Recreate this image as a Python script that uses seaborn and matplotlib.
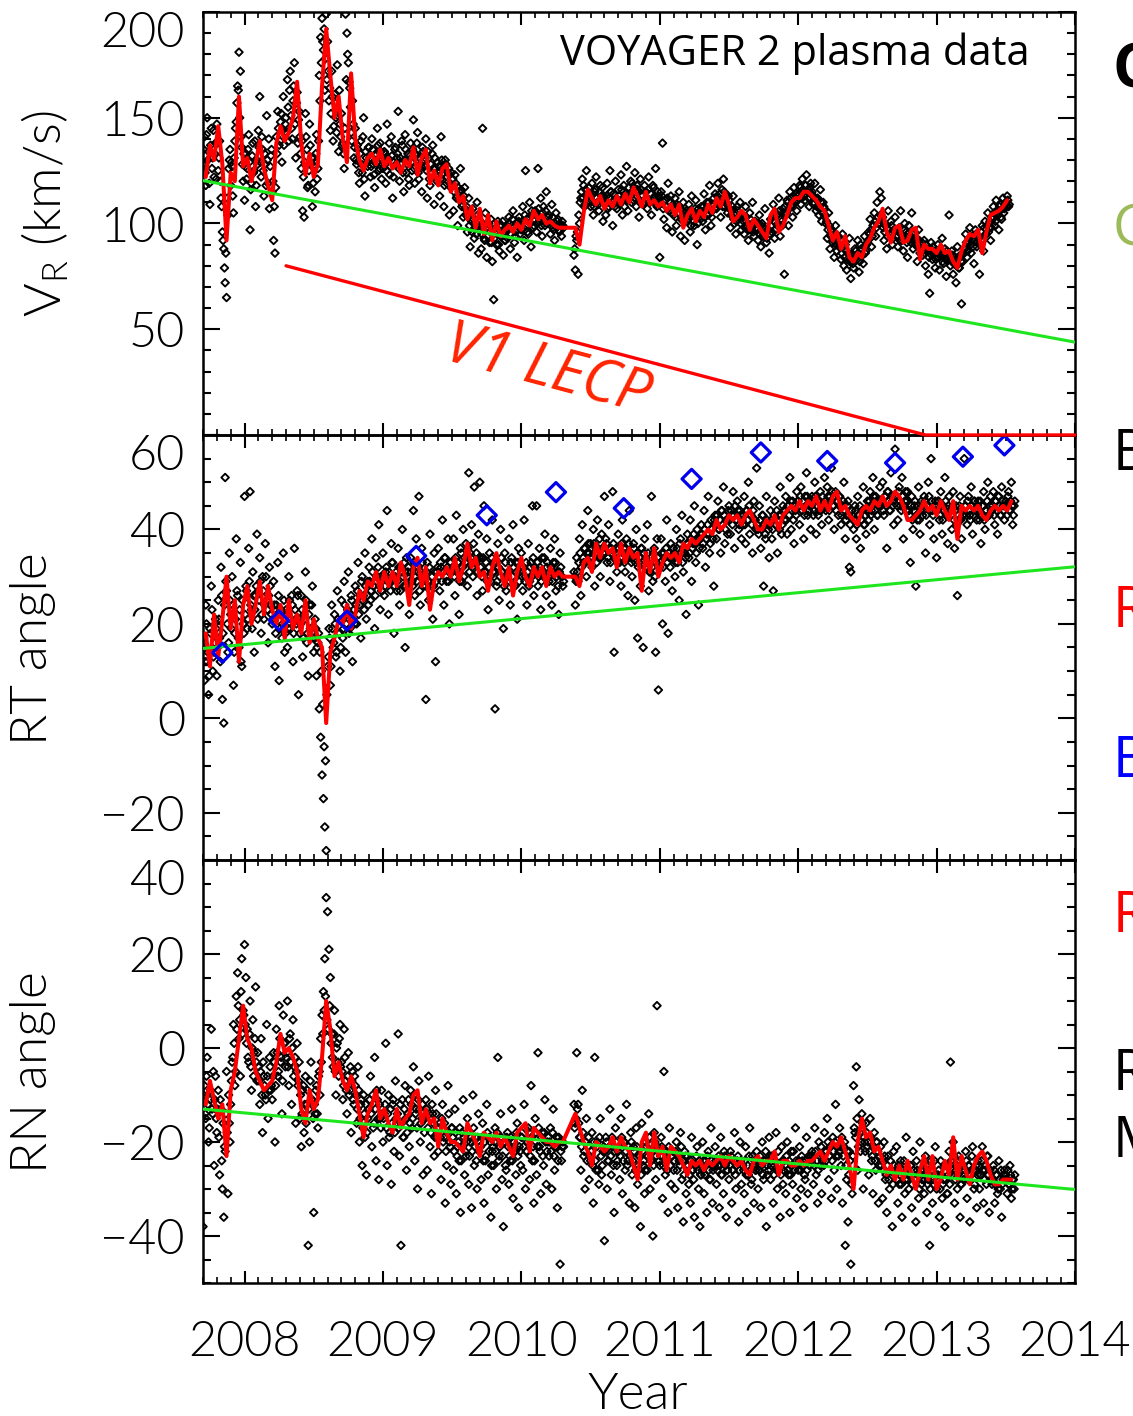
import numpy as np
import pandas as pd
import matplotlib
matplotlib.use("Agg")
import matplotlib.pyplot as plt
import matplotlib.transforms as mtransforms
from matplotlib.ticker import MultipleLocator
import seaborn as sns

nan = np.nan

# ---------------- data ----------------
# Daily-average samples: set "a" every 0.01 yr from 2007.700,
# set "b" every 0.01 yr from 2007.705
PTS_T0 = 2007.700
PTS_T0_B = 2007.705
PTS_DT = 0.01

vr_pts = [
    128, 141, 118, 150, 134, 109, 145, 131, 122, 138,
    147, 125, 139, 112, 96, 88, 72, 65, 104, 130,
    118, 127, 105, 139, 148, 165, 181, 172, 136, 120,
    111, 133, 126, 142, 97, 119, 138, 125, 108, 130,
    144, 160, 122, 135, 113, 128, 151, 119, 107, 132,
    115, 92, 86, 141, 153, 137, 148, 129, 160, 143,
    150, 168, 139, 172, 145, 158, 176, 131, 162, 149,
    141, 126, 106, 103, 152, 135, 118, 147, 128, 108,
    131, 115, 142, 126, 170, 188, 197, 182, 163, 199,
    186, 158, 144, 172, 139, 161, 150, 175, 134, 147,
    152, 138, 126, 199, 190, 176, 164, 143, 158, 131,
    145, 128, 135, 119, 139, 124, 150, 113, 131, 127,
    136, 122, 140, 128, 117, 133, 145, 125, 138, 121,
    126, 134, 119, 147, 130, 123, 141, 112, 129, 136,
    131, 153, 120, 128, 137, 115, 142, 124, 133, 118,
    138, 125, 149, 119, 132, 143, 121, 128, 115, 134,
    127, 140, 112, 131, 118, 124, 137, 109, 126, 120,
    122, 113, 141, 126, 108, 130, 119, 124, 104, 117,
    118, 106, 123, 112, 99, 115, 126, 108, 103, 117,
    104, 96, 112, 89, 101, 107, 93, 98, 110, 86,
    99, 88, 145, 93, 105, 84, 97, 91, 102, 82,
    64, 96, 90, 101, 87, 94, 99, 85, 92, 97,
    93, 103, 88, 99, 106, 91, 96, 84, 101, 95,
    97, 108, 92, 125, 102, 95, 110, 89, 104, 99,
    106, 96, 126, 101, 112, 94, 108, 99, 115, 103,
    104, 95, 109, 98, 92, 105, 101, 97, 100, 94,
    99, nan, nan, nan, nan, nan, nan, nan, 85, 78,
    92, 76, 100, 112, 121, 118, 109, 125, 114, 117,
    108, 119, 104, 115, 122, 110, 106, 118, 113, 101,
    112, 104, 119, 108, 125, 115, 99, 111, 120, 107,
    116, 109, 123, 104, 118, 112, 127, 106, 114, 120,
    119, 111, 124, 108, 116, 103, 121, 113, 109, 118,
    115, 107, 122, 110, 104, 118, 112, 126, 108, 113,
    84, 115, 138, 102, 111, 98, 119, 106, 113, 96,
    104, 112, 99, 108, 115, 94, 103, 110, 92, 106,
    101, 109, 96, 113, 105, 99, 111, 90, 107, 103,
    108, 101, 114, 97, 110, 104, 118, 99, 106, 112,
    114, 107, 119, 110, 103, 116, 121, 108, 113, 105,
    111, 98, 106, 113, 100, 95, 108, 103, 110, 97,
    103, 95, 108, 99, 92, 105, 97, 110, 94, 101,
    98, 92, 104, 89, 100, 95, 107, 91, 97, 86,
    102, 96, 109, 93, 105, 99, 112, 94, 101, 107,
    76, 104, 111, 99, 115, 108, 103, 117, 110, 106,
    113, 118, 109, 121, 115, 111, 123, 116, 108, 119,
    115, 109, 119, 106, 112, 104, 116, 101, 110, 107,
    100, 93, 105, 88, 97, 91, 84, 99, 87, 94,
    89, 83, 95, 80, 90, 78, 86, 93, 74, 82,
    79, 88, 84, 92, 77, 90, 85, 81, 94, 87,
    91, 96, 102, 89, 99, 105, 94, 110, 100, 115,
    112, 103, 92, 99, 88, 106, 95, 101, 90, 97,
    103, 94, 89, 98, 106, 92, 87, 100, 96, 84,
    99, 93, 105, 88, 96, 91, 82, 97, 86, 90,
    85, 92, 80, 88, 76, 67, 91, 83, 87, 79,
    84, 90, 78, 86, 93, 81, 88, 75, 83, 104,
    80, 87, 76, 84, 72, 89, 79, 85, 62, 82,
    88, 95, 84, 91, 98, 86, 93, 81, 97, 89,
    94, 76, 90, 99, 87, 101, 95, 105, 98, 92,
    103, 108, 99, 111, 105, 97, 109, 102, 112, 107,
    110, 113, 108,
]

vr_pts_b = [
    135, 124, 142, 130, 119, 137, 126, 144, 133, 121,
    138, 131, 120, 108, 92, 79, 86, 112, 126, 135,
    129, 113, 131, 145, 157, 163, 150, 141, 128, 133,
    127, 121, 135, 129, 116, 132, 124, 139, 118, 128,
    136, 129, 141, 125, 133, 118, 130, 140, 127, 135,
    120, 108, 117, 133, 145, 139, 152, 144, 137, 147,
    143, 155, 163, 151, 140, 165, 147, 157, 138, 153,
    133, 139, 122, 129, 141, 117, 125, 137, 131, 119,
    127, 133, 121, 139, 158, 176, 186, 192, 178, 168,
    172, 164, 152, 160, 146, 157, 143, 151, 163, 141,
    137, 133, 145, 168, 180, 167, 155, 139, 147, 136,
    130, 137, 124, 133, 128, 141, 121, 134, 129, 136,
    131, 127, 135, 123, 132, 129, 137, 126, 134, 130,
    129, 133, 125, 131, 138, 127, 132, 122, 135, 128,
    133, 126, 131, 139, 124, 130, 135, 128, 121, 132,
    129, 135, 126, 133, 138, 124, 131, 127, 136, 130,
    131, 125, 134, 121, 128, 133, 126, 131, 123, 129,
    127, 121, 130, 124, 118, 128, 122, 126, 119, 124,
    121, 115, 119, 113, 117, 111, 116, 109, 113, 107,
    108, 103, 99, 106, 96, 102, 100, 95, 104, 97,
    101, 95, 99, 92, 98, 94, 100, 96, 91, 97,
    93, 98, 95, 90, 99, 94, 101, 96, 92, 99,
    97, 100, 95, 102, 98, 94, 100, 97, 103, 99,
    101, 98, 104, 99, 96, 103, 100, 106, 98, 102,
    104, 100, 107, 102, 99, 105, 101, 106, 100, 103,
    101, 99, 103, 97, 100, 98, 102, 96, 99, 101,
    98, nan, nan, nan, nan, nan, nan, nan, 88, 94,
    96, 104, 110, 115, 112, 108, 116, 113, 110, 114,
    111, 114, 108, 116, 112, 109, 115, 111, 117, 113,
    109, 113, 107, 112, 115, 110, 114, 108, 112, 111,
    113, 110, 116, 112, 108, 114, 111, 117, 113, 110,
    114, 117, 112, 118, 115, 111, 116, 113, 110, 115,
    112, 116, 110, 114, 111, 117, 113, 109, 115, 112,
    110, 113, 107, 111, 108, 112, 106, 110, 105, 109,
    107, 103, 109, 105, 108, 102, 106, 101, 105, 103,
    102, 106, 99, 104, 101, 107, 103, 100, 105, 102,
    105, 108, 103, 107, 104, 110, 106, 103, 109, 107,
    110, 113, 109, 114, 111, 108, 115, 112, 109, 113,
    107, 104, 108, 102, 105, 101, 106, 103, 100, 104,
    101, 98, 103, 100, 97, 102, 99, 96, 101, 98,
    97, 100, 95, 99, 94, 98, 96, 93, 97, 95,
    99, 103, 101, 97, 104, 100, 106, 102, 99, 105,
    108, 105, 110, 107, 112, 109, 113, 110, 114, 111,
    114, 117, 112, 116, 113, 118, 115, 112, 117, 114,
    113, 110, 112, 108, 111, 107, 110, 105, 108, 104,
    101, 97, 99, 94, 96, 92, 95, 90, 93, 89,
    90, 86, 89, 84, 87, 83, 86, 82, 85, 81,
    84, 87, 83, 86, 82, 88, 85, 89, 86, 90,
    92, 95, 97, 94, 99, 101, 98, 103, 100, 104,
    101, 98, 96, 99, 94, 97, 95, 99, 93, 96,
    97, 94, 96, 92, 95, 93, 97, 94, 91, 95,
    94, 91, 95, 92, 90, 93, 89, 92, 88, 91,
    89, 86, 90, 87, 84, 88, 85, 89, 86, 83,
    87, 84, 88, 85, 82, 86, 83, 87, 84, 85,
    83, 85, 81, 84, 80, 83, 79, 82, 85, 86,
    88, 91, 87, 93, 90, 94, 89, 92, 95, 91,
    93, 90, 96, 92, 98, 95, 99, 96, 101, 98,
    102, 105, 101, 106, 104, 108, 103, 107, 105, 109,
    108, 111, 109,
]

rt_pts = [
    16, 8, 24, 12, 5, 19, 28, 10, 14, 21,
    9, 25, 17, 32, 4, -1, 51, 27, 14, 35,
    22, 30, 7, 18, 38, 26, 15, 33, 11, 20,
    47, 28, 19, 36, 48, 23, 31, 14, 26, 39,
    27, 34, 18, 30, 21, 37, 25, 16, 32, 24,
    20, 29, 11, 24, 33, 8, 22, 17, 35, 14,
    23, 15, 30, 19, 26, 12, 36, 21, 27, 5,
    18, 26, 13, 22, 31, 16, 9, 24, 19, 28,
    14, 21, 9, 16, 2, -4, -12, -17, -23, -28,
    11, 19, 7, 24, 15, 22, 13, 27, 18, 10,
    25, 17, 29, 14, 22, 31, 19, 26, 12, 23,
    28, 20, 33, 24, 17, 30, 26, 35, 21, 29,
    32, 25, 38, 28, 19, 34, 30, 41, 23, 27,
    35, 26, 31, 44, 22, 29, 37, 33, 18, 30,
    27, 36, 24, 32, 40, 28, 15, 34, 31, 22,
    34, 29, 44, 26, 38, 31, 47, 24, 36, 28,
    30, 4, 33, 25, 39, 28, 21, 35, 12, 31,
    36, 27, 32, 42, 24, 34, 29, 38, 20, 33,
    31, 38, 26, 43, 33, 22, 36, 29, 40, 34,
    37, 28, 52, 35, 41, 30, 49, 33, 26, 39,
    50, 34, 27, 45, 31, 38, 23, 35, 29, 42,
    33, 2, 28, 37, 25, 40, 31, 19, 35, 27,
    30, 38, 24, 34, 41, 28, 33, 21, 36, 31,
    35, 27, 42, 30, 24, 37, 29, 33, 45, 26,
    32, 45, 28, 36, 23, 34, 30, 39, 26, 33,
    29, 36, 24, 33, 38, 27, 31, 22, 35, 30,
    28, nan, nan, nan, nan, nan, nan, nan, 31, 24,
    34, 29, 38, 26, 41, 33, 36, 30, 44, 35,
    37, 32, 40, 28, 36, 42, 34, 30, 39, 35,
    47, 38, 33, 41, 29, 36, 48, 14, 35, 31,
    39, 33, 28, 42, 36, 31, 38, 26, 44, 34,
    30, 37, 25, 40, 17, 33, 28, 36, 15, 38,
    34, 41, 27, 31, 47, 29, 36, 14, 38, 6,
    32, 38, 20, 35, 29, 42, 18, 34, 37, 27,
    36, 30, 40, 33, 25, 38, 43, 31, 35, 22,
    39, 34, 42, 29, 37, 45, 33, 40, 24, 38,
    41, 36, 44, 32, 39, 47, 35, 42, 38, 28,
    43, 38, 46, 40, 35, 44, 49, 37, 42, 39,
    45, 39, 43, 48, 36, 42, 46, 40, 44, 38,
    41, 47, 37, 44, 50, 39, 43, 35, 46, 42,
    53, 40, 45, 36, 43, 28, 39, 47, 41, 34,
    44, 38, 27, 46, 41, 35, 43, 49, 39, 45,
    42, 47, 39, 45, 51, 40, 46, 37, 44, 48,
    46, 41, 49, 44, 38, 47, 52, 43, 45, 40,
    47, 43, 50, 39, 46, 44, 48, 41, 45, 51,
    44, 49, 42, 47, 53, 45, 40, 48, 46, 43,
    47, 41, 45, 50, 38, 43, 46, 32, 31, 44,
    40, 45, 38, 47, 43, 36, 44, 49, 41, 39,
    46, 42, 48, 44, 51, 40, 47, 43, 45, 49,
    45, 50, 43, 47, 36, 48, 44, 52, 46, 41,
    57, 47, 42, 49, 45, 51, 38, 46, 44, 48,
    44, 33, 47, 40, 45, 28, 42, 49, 39, 46,
    43, 47, 35, 45, 50, 41, 55, 44, 38, 46,
    34, 46, 42, 48, 39, 45, 51, 43, 37, 47,
    44, 40, 48, 36, 45, 26, 42, 47, 38, 43,
    55, 45, 41, 47, 43, 49, 39, 46, 44, 42,
    46, 42, 37, 45, 48, 40, 44, 50, 43, 47,
    44, 48, 41, 46, 39, 47, 43, 49, 45, 42,
    46, 43, 48, 44, 50, 41, 45,
]

rt_pts_b = [
    17, 12, 20, 14, 9, 18, 23, 13, 16, 19,
    15, 21, 12, 26, 18, 24, 29, 20, 16, 25,
    19, 24, 14, 21, 27, 17, 23, 12, 25, 18,
    22, 27, 21, 29, 24, 19, 26, 23, 28, 21,
    25, 29, 22, 27, 24, 30, 23, 26, 28, 22,
    21, 24, 18, 22, 26, 19, 23, 20, 25, 18,
    22, 19, 25, 21, 24, 18, 23, 20, 26, 21,
    20, 23, 17, 21, 25, 18, 22, 19, 24, 17,
    17, 19, 15, 18, 14, 10, 3, -6, -9, 5,
    13, 17, 11, 19, 16, 20, 14, 21, 18, 15,
    21, 19, 24, 20, 23, 18, 22, 25, 21, 20,
    24, 27, 22, 26, 29, 25, 23, 28, 26, 24,
    29, 27, 31, 28, 26, 30, 32, 28, 30, 27,
    30, 28, 32, 29, 31, 27, 33, 30, 28, 31,
    29, 32, 27, 31, 30, 33, 28, 30, 32, 29,
    31, 28, 33, 30, 29, 32, 27, 31, 33, 30,
    28, 31, 29, 32, 27, 30, 28, 31, 29, 32,
    30, 33, 29, 31, 34, 30, 32, 29, 33, 31,
    32, 30, 34, 31, 33, 29, 35, 32, 30, 33,
    33, 36, 31, 34, 32, 37, 33, 35, 31, 34,
    32, 30, 34, 31, 33, 29, 32, 30, 34, 31,
    31, 33, 29, 32, 30, 34, 31, 28, 33, 30,
    31, 29, 33, 30, 32, 28, 31, 33, 29, 32,
    30, 32, 29, 33, 31, 28, 32, 30, 34, 31,
    31, 33, 30, 32, 29, 31, 34, 30, 32, 30,
    30, 32, 29, 31, 33, 30, 28, 31, 32, 30,
    29, nan, nan, nan, nan, nan, nan, nan, 30, 29,
    31, 33, 35, 32, 34, 36, 33, 35, 37, 34,
    36, 34, 37, 35, 33, 36, 38, 34, 36, 35,
    35, 37, 34, 36, 33, 35, 37, 34, 36, 33,
    36, 34, 37, 35, 33, 36, 34, 37, 35, 33,
    34, 36, 33, 35, 32, 34, 36, 33, 35, 32,
    33, 35, 31, 34, 32, 35, 30, 33, 34, 32,
    33, 35, 32, 34, 36, 33, 35, 32, 34, 36,
    35, 33, 36, 34, 37, 35, 33, 36, 34, 37,
    37, 35, 38, 36, 39, 37, 35, 38, 36, 39,
    39, 37, 40, 38, 41, 39, 37, 40, 38, 42,
    41, 43, 40, 42, 44, 41, 43, 40, 42, 44,
    42, 44, 41, 43, 45, 42, 44, 41, 43, 42,
    43, 41, 44, 42, 45, 43, 41, 44, 42, 40,
    41, 39, 42, 40, 43, 41, 38, 42, 40, 41,
    42, 40, 43, 41, 44, 42, 40, 43, 41, 44,
    44, 42, 45, 43, 46, 44, 42, 45, 43, 46,
    45, 47, 44, 46, 43, 45, 47, 44, 46, 45,
    46, 44, 47, 45, 43, 46, 44, 47, 45, 46,
    45, 47, 44, 46, 48, 45, 47, 44, 46, 47,
    45, 43, 46, 44, 42, 45, 43, 41, 44, 43,
    42, 44, 41, 43, 45, 42, 44, 41, 43, 44,
    44, 46, 43, 45, 47, 44, 46, 43, 45, 46,
    46, 44, 47, 45, 48, 46, 44, 47, 45, 47,
    47, 45, 48, 46, 44, 47, 45, 48, 46, 44,
    43, 45, 42, 44, 46, 43, 45, 42, 44, 45,
    44, 46, 43, 45, 47, 44, 46, 43, 45, 44,
    44, 46, 43, 45, 42, 44, 46, 43, 45, 44,
    43, 45, 42, 44, 41, 43, 45, 42, 44, 43,
    45, 43, 46, 44, 42, 45, 43, 46, 44, 45,
    44, 46, 43, 45, 42, 44, 46, 43, 45, 44,
    45, 43, 46, 44, 47, 45, 43, 46, 44, 45,
    45, 47, 44, 46, 45, 43, 46,
]

rn_pts = [
    -38, -8, -15, -2, -20, -11, 4, -14, -25, -6,
    -18, -9, -27, -13, -30, -36, -22, -5, -31, -16,
    -12, -3, 5, -8, 11, 16, 2, -6, 19, 8,
    22, 15, 4, -3, 10, -9, 6, -1, 13, -7,
    -4, -12, 2, -18, -6, -10, 5, -15, -2, -9,
    -11, -1, -20, 4, -6, 9, -3, -14, 7, 1,
    -2, 10, -8, 3, -12, 6, -4, -16, 1, -7,
    -15, -21, -9, -18, -6, -12, -42, -20, -3, -11,
    -35, -14, -8, -17, -5, 2, 7, 12, 19, 32,
    29, 21, 15, 3, -4, 8, -10, 1, -6, 5,
    -3, -11, 4, -7, -14, -1, -9, -18, -5, -12,
    -8, -16, -4, -20, -12, -25, -10, -19, -27, -15,
    -13, -6, -21, -17, -2, -24, -11, -28, -15, -9,
    -20, -14, 1, -25, -10, -18, -29, -12, -22, -7,
    -16, 3, -23, -42, -11, -19, -8, -26, -14, -21,
    -9, -17, -4, -24, -13, -30, -7, -20, -15, -27,
    -18, -11, -26, -6, -21, -31, -14, -23, -9, -19,
    -22, -16, -28, -12, -19, -33, -25, -8, -20, -29,
    -17, -26, -13, -31, -21, -24, -35, -18, -11, -27,
    -23, -15, -29, -20, -34, -10, -25, -19, -30, -14,
    -21, -28, -16, -33, -24, -12, -27, -19, -36, -22,
    -25, -17, -30, -2, -23, -14, -28, -38, -20, -26,
    -18, -29, -24, -13, -32, -21, -27, -16, -34, -22,
    -19, -26, -12, -30, -22, -17, -28, -8, -24, -33,
    -15, -27, -1, -21, -31, -18, -25, -11, -29, -20,
    -23, -17, -30, -13, -26, -21, -34, -19, -46, -24,
    -20, nan, nan, nan, nan, nan, nan, nan, -12, -16,
    -1, -12, -19, -26, -9, -23, -30, -15, -21, -28,
    -24, -18, -33, -2, -26, -20, -29, -15, -27, -22,
    -41, -19, -30, -24, -13, -27, -21, -35, -17, -25,
    -22, -28, -15, -31, -20, -26, -12, -24, -33, -18,
    -27, -21, -34, -17, -29, -23, -38, -16, -25, -31,
    -20, -26, -14, -30, -24, -40, -18, -28, 9, -22,
    -25, -19, -32, -5, -27, -22, -35, -17, -29, -23,
    -26, -30, -20, -34, -24, -18, -28, -37, -22, -31,
    -23, -29, -33, -19, -26, -36, -25, -21, -30, -38,
    -27, -20, -31, -24, -35, -22, -28, -17, -33, -25,
    -21, -29, -25, -34, -19, -27, -31, -23, -36, -26,
    -28, -22, -33, -26, -18, -30, -24, -37, -20, -29,
    -25, -31, -21, -35, -27, -17, -29, -23, -33, -26,
    -22, -30, -26, -34, -20, -28, -24, -38, -27, -19,
    -28, -23, -33, -25, -18, -30, -26, -36, -21, -29,
    -24, -31, -20, -27, -35, -22, -29, -26, -17, -32,
    -26, -21, -30, -24, -34, -28, -19, -31, -25, -23,
    -22, -29, -17, -27, -33, -20, -25, -31, -23, -18,
    -24, -15, -28, -21, -32, -19, -26, -12, -30, -23,
    -17, -25, -33, -21, -42, -28, -37, -22, -46, -31,
    -8, -18, -4, -26, -11, -22, -14, -30, -20, -16,
    -21, -27, -15, -24, -31, -18, -26, -20, -33, -23,
    -25, -32, -20, -28, -35, -23, -30, -26, -38, -22,
    -27, -21, -33, -29, -24, -36, -26, -31, -19, -28,
    -30, -25, -34, -22, -28, -37, -26, -32, -20, -29,
    -26, -31, -23, -35, -28, -42, -24, -33, -29, -21,
    -30, -27, -36, -24, -32, -28, -38, -25, -31, -22,
    -3, -27, -20, -33, -26, -30, -23, -36, -29, -25,
    -28, -22, -32, -25, -37, -27, -21, -30, -26, -34,
    -24, -30, -27, -21, -33, -26, -29, -23, -35, -28,
    -29, -25, -33, -27, -31, -24, -30, -36, -28, -26,
    -27, -31, -29, -25, -32, -28, -30,
]

rn_pts_b = [
    -10, -14, -6, -12, -17, -9, -13, -5, -11, -15,
    -13, -19, -11, -24, -16, -21, -14, -18, -10, -20,
    -7, -2, 1, -5, 4, 9, 6, 12, 3, 7,
    5, 1, -2, 3, -4, 0, -6, 2, -3, -1,
    -7, -5, -10, -3, -8, -11, -6, -9, -4, -8,
    -6, -3, -8, -1, -5, 2, -2, -7, 1, -4,
    -1, -4, 2, -3, 0, -6, -2, -5, -8, -3,
    -10, -14, -8, -12, -16, -9, -13, -7, -11, -15,
    -12, -9, -14, -6, -10, -3, 3, 8, 11, 6,
    4, 9, 1, -2, 3, -5, 0, -3, 2, -4,
    -5, -8, -2, -9, -6, -10, -4, -7, -11, -6,
    -10, -13, -9, -15, -11, -17, -14, -12, -18, -13,
    -11, -14, -10, -16, -13, -9, -15, -12, -17, -14,
    -15, -12, -17, -14, -19, -13, -16, -11, -18, -15,
    -14, -17, -12, -16, -19, -13, -15, -18, -11, -16,
    -12, -15, -10, -14, -17, -11, -13, -16, -12, -15,
    -15, -13, -17, -14, -18, -12, -16, -19, -14, -17,
    -17, -19, -15, -20, -16, -22, -18, -14, -21, -17,
    -19, -22, -18, -23, -20, -17, -24, -21, -19, -22,
    -20, -18, -23, -19, -22, -17, -21, -24, -19, -22,
    -21, -19, -24, -20, -23, -18, -22, -20, -25, -21,
    -20, -22, -18, -24, -21, -19, -23, -20, -25, -19,
    -21, -23, -19, -24, -20, -22, -18, -23, -21, -25,
    -19, -21, -17, -22, -20, -18, -23, -19, -21, -24,
    -18, -21, -17, -22, -19, -23, -18, -20, -22, -19,
    -20, -22, -18, -23, -21, -19, -24, -20, -22, -21,
    -21, nan, nan, nan, nan, nan, nan, nan, -17, -15,
    -13, -16, -19, -21, -18, -22, -20, -24, -19, -23,
    -22, -25, -20, -24, -21, -26, -19, -23, -25, -21,
    -22, -20, -24, -21, -23, -19, -25, -22, -20, -24,
    -21, -23, -19, -24, -20, -22, -25, -21, -23, -20,
    -24, -22, -26, -21, -25, -23, -27, -22, -24, -26,
    -21, -23, -19, -24, -22, -25, -20, -23, -21, -24,
    -23, -21, -25, -22, -24, -26, -21, -25, -23, -22,
    -24, -22, -26, -23, -25, -21, -24, -27, -23, -25,
    -25, -27, -24, -26, -28, -25, -23, -26, -24, -27,
    -26, -24, -27, -25, -23, -26, -28, -24, -26, -25,
    -24, -26, -23, -25, -27, -24, -22, -25, -26, -24,
    -25, -23, -26, -24, -27, -25, -23, -26, -24, -25,
    -26, -24, -27, -25, -23, -26, -28, -25, -24, -26,
    -24, -26, -23, -25, -27, -24, -22, -25, -26, -23,
    -25, -23, -27, -24, -26, -22, -25, -27, -24, -26,
    -25, -23, -26, -24, -27, -25, -22, -26, -24, -25,
    -24, -26, -23, -25, -27, -24, -26, -23, -25, -24,
    -23, -25, -22, -24, -26, -23, -21, -24, -25, -22,
    -22, -20, -23, -21, -24, -22, -20, -23, -21, -22,
    -21, -19, -23, -20, -25, -22, -27, -24, -29, -23,
    -17, -19, -15, -21, -18, -20, -16, -19, -22, -18,
    -20, -22, -19, -23, -21, -24, -20, -22, -25, -21,
    -24, -26, -23, -27, -25, -28, -24, -26, -29, -25,
    -26, -28, -25, -27, -29, -26, -24, -28, -26, -27,
    -27, -25, -29, -26, -28, -24, -27, -30, -26, -28,
    -26, -28, -25, -29, -27, -30, -26, -28, -24, -27,
    -28, -26, -30, -27, -29, -25, -28, -31, -27, -29,
    -24, -26, -23, -28, -25, -27, -24, -29, -26, -28,
    -26, -24, -28, -25, -27, -23, -26, -29, -25, -27,
    -25, -27, -24, -26, -28, -25, -23, -27, -26, -28,
    -28, -26, -29, -27, -30, -28, -26, -29, -27, -28,
    -28, -26, -29, -27, -30, -28, -27,
]

# Running averages, one value every 0.03 yr starting at 2007.72
AVG_T0 = 2007.72
AVG_DT = 0.03

vr_avg = [
    122, 137, 130, 146, 128, 92, 124, 120, 160, 127,
    131, 120, 128, 139, 126, 118, 111, 138, 146, 139,
    143, 150, 167, 138, 123, 133, 122, 128, 165, 192,
    170, 150, 160, 140, 129, 171, 140, 130, 125, 131,
    133, 128, 135, 127, 131, 126, 129, 124, 130, 127,
    136, 123, 131, 135, 119, 125, 118, 126, 128, 115,
    119, 110, 113, 102, 108, 98, 107, 95, 104, 92,
    101, 94, 97, 99, 96, 100, 97, 102, 99, 106,
    102, 104, 100, 101, 99, 98, 98, nan, nan, 98,
    90, 105, 116, 112, 109, 113, 107, 111, 108, 113,
    109, 114, 110, 117, 113, 108, 115, 109, 111, 108,
    110, 106, 109, 104, 109, 98, 104, 107, 101, 106,
    103, 109, 105, 112, 108, 115, 109, 101, 103, 106,
    104, 97, 102, 99, 96, 93, 104, 107, 96, 99,
    104, 110, 112, 112, 115, 115, 113, 111, 108, 106,
    99, 92, 96, 88, 94, 84, 82, 86, 84, 90,
    93, 98, 101, 107, 96, 91, 98, 99, 91, 92,
    97, 98, 83, 90, 88, 88, 86, 90, 86, 87,
    82, 79, 87, 92, 95, 94, 97, 86, 96, 104,
    105, 106, 108, 111,
]

rt_avg = [
    18, 11, 22, 13, 21, 30, 19, 25, 12, 24,
    28, 20, 24, 29, 22, 28, 23, 20, 24, 17,
    25, 19, 22, 18, 25, 16, 21, 17, 15, -1,
    14, 17, 21, 20, 24, 19, 22, 27, 25, 29,
    28, 31, 27, 31, 28, 31, 28, 33, 30, 24,
    32, 34, 28, 32, 23, 29, 31, 30, 32, 30,
    34, 29, 32, 37, 32, 34, 30, 31, 27, 32,
    35, 31, 28, 32, 26, 31, 34, 30, 28, 32,
    30, 32, 28, 32, 30, 31, 30, nan, nan, 30,
    28, 33, 34, 31, 37, 34, 37, 35, 36, 32,
    37, 33, 36, 34, 35, 27, 35, 31, 36, 30,
    33, 35, 34, 35, 33, 37, 36, 38, 37, 38,
    39, 40, 39, 42, 40, 41, 43, 42, 43, 41,
    43, 44, 42, 40, 40, 42, 41, 43, 40, 43,
    44, 45, 44, 46, 44, 46, 45, 47, 44, 46,
    44, 47, 48, 44, 45, 43, 42, 41, 44, 45,
    44, 46, 45, 47, 45, 46, 48, 47, 45, 42,
    42, 43, 44, 46, 44, 45, 43, 46, 44, 42,
    46, 38, 45, 44, 45, 44, 45, 43, 42, 44,
    45, 44, 45, 44, 46,
]

rn_avg = [
    -12, -7, -11, -15, -12, -23, -9, -5, 2, 9,
    2, 0, -5, -7, -9, -8, -7, -3, 3, -1,
    0, -2, -5, -13, -16, -9, -13, -11, -2, 10,
    4, -6, -3, -7, -9, -6, -9, -14, -19, -14,
    -12, -9, -15, -13, -16, -18, -13, -17, -15, -14,
    -10, -9, -16, -13, -16, -15, -21, -15, -18, -20,
    -20, -21, -22, -16, -18, -20, -23, -18, -19, -20,
    -18, -21, -19, -21, -23, -18, -17, -16, -22, -17,
    -18, -19, -20, -20, -21, -20, -20, nan, nan, -14,
    -17, -20, -22, -25, -20, -21, -22, -21, -19, -22,
    -19, -21, -22, -25, -28, -20, -18, -25, -18, -23,
    -21, -26, -21, -22, -23, -25, -27, -24, -25, -24,
    -26, -24, -25, -24, -23, -25, -23, -24, -25, -24,
    -26, -27, -24, -23, -25, -24, -24, -22, -27, -24,
    -24, -25, -25, -24, -25, -24, -24, -23, -22, -24,
    -22, -20, -21, -19, -22, -25, -30, -20, -15, -19,
    -18, -22, -21, -24, -27, -25, -28, -25, -28, -24,
    -27, -30, -26, -23, -28, -23, -30, -28, -24, -27,
    -19, -28, -23, -26, -29, -25, -23, -22, -24, -27,
    -29, -29, -28, -28, -28,
]

# Linear trends
fit_years = [2007.70, 2014.0]
vr_fit = [120.3, 43.9]
rt_fit = [14.8, 32.1]
rn_fit = [-13.0, -30.1]

# V1 LECP radial speed trend
lecp_years = [2008.30, 2012.92, 2014.0]
lecp_vr = [80.0, 0.0, 0.0]

# Magnetic-field RT angles (blue diamonds)
bfield_years = [2007.84, 2008.25, 2008.74, 2009.24, 2009.75, 2010.25, 2010.74,
                2011.23, 2011.73, 2012.21, 2012.70, 2013.19, 2013.49]
bfield_rt = [13.9, 20.7, 20.7, 34.4, 43.0, 47.9, 44.5, 50.7, 56.3, 54.5, 54.1,
             55.4, 57.8]

year_ticks = [2008, 2009, 2010, 2011, 2012, 2013, 2014]

# ---------------- style ----------------
sns.set_theme(style="ticks")
plt.rcParams.update({
    "font.family": ["Lato", "DejaVu Sans"],
    "font.weight": 300,
    "text.color": "black",
    "axes.labelcolor": "black",
    "axes.linewidth": 1.8,
    "axes.edgecolor": "black",
    "xtick.color": "black",
    "ytick.color": "black",
    "axes.unicode_minus": True,
})

RED = "#ff0000"
GREEN = "#1ee61e"
BLUE = "#0000ee"
TICK_FS = 35
LABEL_FS = 37

fig = plt.figure(figsize=(11.33, 14.16), dpi=100, facecolor="white")
W, H = 1133.0, 1416.0
left = 203 / W
width = (1075 - 203) / W


def add_panel(top_px, bot_px):
    ax = fig.add_axes([left, 1 - bot_px / H, width, (bot_px - top_px) / H])
    ax.set_facecolor("none")
    return ax


ax_vr = add_panel(12, 435)
ax_rt = add_panel(435, 860)
ax_rn = add_panel(860, 1283)
# speed panel drawn last so its trend line lies over the shared border
ax_vr.set_zorder(3)


def draw_data(ax, pts, pts_b, avg, fit):
    dfa_pts = pd.DataFrame({"year": PTS_T0 + PTS_DT * np.arange(len(pts)),
                            "value": np.array(pts, dtype=float)})
    dfb_pts = pd.DataFrame({"year": PTS_T0_B + PTS_DT * np.arange(len(pts_b)),
                            "value": np.array(pts_b, dtype=float)})
    dfp = pd.concat([dfa_pts, dfb_pts]).dropna()
    sns.scatterplot(data=dfp, x="year", y="value", marker="D", s=15,
                    facecolors="none", edgecolor="black", linewidth=1.35,
                    ax=ax, zorder=2, legend=False)
    t_avg = AVG_T0 + AVG_DT * np.arange(len(avg))
    dfa = pd.DataFrame({"year": t_avg, "value": np.array(avg, dtype=float)}).dropna()
    sns.lineplot(data=dfa, x="year", y="value", color=RED, linewidth=2.9,
                 estimator=None, sort=False, ax=ax, zorder=3)
    sns.lineplot(x=fit_years, y=fit, color=GREEN, linewidth=2.2, ax=ax, zorder=4)


draw_data(ax_vr, vr_pts, vr_pts_b, vr_avg, vr_fit)
draw_data(ax_rt, rt_pts, rt_pts_b, rt_avg, rt_fit)
draw_data(ax_rn, rn_pts, rn_pts_b, rn_avg, rn_fit)

# V1 LECP trend line in the speed panel
sns.lineplot(x=lecp_years, y=lecp_vr, color=RED, linewidth=2.4, ax=ax_vr,
             zorder=5, clip_on=False)

# Magnetic-field directions
sns.scatterplot(x=bfield_years, y=bfield_rt, marker="D", s=95,
                facecolors="none", edgecolor=BLUE, linewidth=2.3,
                ax=ax_rt, zorder=6, legend=False)

panels = [
    (ax_vr, (0, 200), [0, 50, 100, 150, 200], ["", "50", "100", "150", ""], "200", 10),
    (ax_rt, (-30, 60), [-20, 0, 20, 40, 60], ["\u221220", "0", "20", "40", ""], "60", 5),
    (ax_rn, (-50, 40), [-40, -20, 0, 20, 40], ["\u221240", "\u221220", "0", "20", ""], "40", 5),
]

for ax, ylim, yt, ylab, toplab, yminor in panels:
    ax.set_xlim(2007.70, 2014.0)
    ax.set_ylim(*ylim)
    ax.set_xlabel("")
    ax.set_ylabel("")
    ax.set_yticks(yt, ylab)
    ax.yaxis.set_minor_locator(MultipleLocator(yminor))
    ax.set_xticks(year_ticks, [str(y) for y in year_ticks])
    ax.xaxis.set_minor_locator(MultipleLocator(0.1))
    ax.tick_params(which="both", direction="in", top=True, right=True,
                   colors="black", labelcolor="black")
    ax.tick_params(axis="y", which="major", length=12.5, width=1.5,
                   labelsize=TICK_FS, pad=13)
    ax.tick_params(axis="y", which="minor", length=6, width=1.5)
    ax.tick_params(axis="x", which="major", length=9, width=1.5,
                   labelsize=TICK_FS, pad=27)
    ax.tick_params(axis="x", which="minor", length=4.5, width=1.2)
    for lab in ax.get_xticklabels() + ax.get_yticklabels():
        lab.set_fontweight(300)
    for sp in ax.spines.values():
        sp.set_linewidth(1.8)
        sp.set_zorder(2.5)
    # uppermost value label sits a little below its tick
    shift = mtransforms.ScaledTranslation(-13 / 72, -12.3 / 72, fig.dpi_scale_trans)
    ax.text(0, ylim[1], toplab, transform=ax.get_yaxis_transform() + shift,
            ha="right", va="center_baseline", fontsize=TICK_FS,
            fontweight=300, color="black")

for ax in (ax_vr, ax_rt):
    ax.tick_params(axis="x", which="both", labelbottom=False)

# axis titles
fig.text(45 / W, 1 - 214 / H, r"$\mathregular{V_R}$ (km/s)", rotation=90,
         ha="center", va="center", fontsize=LABEL_FS, fontweight=300)
fig.text(33 / W, 1 - 649 / H, "RT angle", rotation=90,
         ha="center", va="center", fontsize=LABEL_FS, fontweight=300)
fig.text(33 / W, 1 - 1072 / H, "RN angle", rotation=90,
         ha="center", va="center", fontsize=LABEL_FS, fontweight=300)
fig.text(638 / W, 1 - 1395 / H, "Year", ha="center", va="center",
         fontsize=LABEL_FS, fontweight=300)

# annotations
fig.text(1030 / W, 1 - 65 / H, "VOYAGER 2 plasma data",
         ha="right", va="baseline", fontsize=30, family="Open Sans",
         fontweight="normal", color="black")
fig.text(548 / W, 1 - 371 / H, "V1 LECP", rotation=-15, rotation_mode="anchor",
         ha="center", va="center", fontsize=43, family="Open Sans",
         style="italic", fontweight="normal", color="#ff2400")

# side legend entries running off the right edge
side_letters = [
    ("C", "black", 87, "bold", 44),
    ("G", "#9bbb59", 245, "normal", 40),
    ("B", "black", 470, "normal", 40),
    ("R", "#ff0000", 627, "normal", 40),
    ("B", "#0000ff", 777, "normal", 40),
    ("R", "#ff0000", 932, "normal", 40),
    ("R", "black", 1090, "normal", 40),
    ("M", "black", 1157, "normal", 40),
]
for ch, col, base, wt, fs in side_letters:
    fig.text(1113 / W, 1 - base / H, ch, ha="left", va="baseline",
             fontsize=fs, family="Open Sans", fontweight=wt, color=col)

fig.savefig("out.png", dpi=100, facecolor="white")
